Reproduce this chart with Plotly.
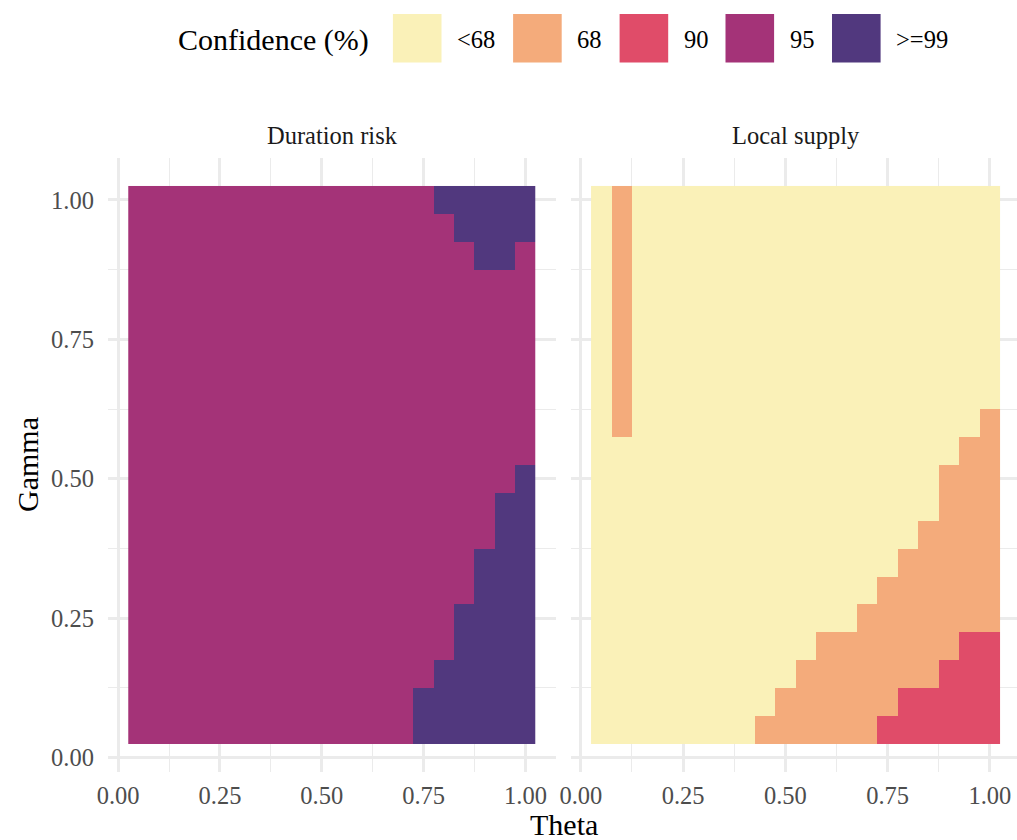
import plotly.graph_objects as go

# ---- data -------------------------------------------------------------
theta = [0.05, 0.10, 0.15, 0.20, 0.25, 0.30, 0.35, 0.40, 0.45, 0.50,
         0.55, 0.60, 0.65, 0.70, 0.75, 0.80, 0.85, 0.90, 0.95, 1.00]
gamma = [0.05, 0.10, 0.15, 0.20, 0.25, 0.30, 0.35, 0.40, 0.45, 0.50,
         0.55, 0.60, 0.65, 0.70, 0.75, 0.80, 0.85, 0.90, 0.95, 1.00]

levels = ["<68", "68", "90", "95", ">=99"]
level_codes = ["Y", "O", "R", "P", "D"]
level_colors = ["#FAF1B8", "#F4AB7B", "#E04C69", "#A43378", "#51387E"]

panel_names = ["Duration risk", "Local supply"]

# One string per gamma row, from gamma = 1.00 (top) down to 0.05 (bottom);
# one character per theta cell (0.05 ... 1.00), spaces only for readability.
# Y: <68   O: 68   R: 90   P: 95   D: >=99
duration_risk_rows = [
    "PPPPP PPPPP PPPPP DDDDD",  # 1.00
    "PPPPP PPPPP PPPPP PDDDD",  # 0.95
    "PPPPP PPPPP PPPPP PPDDP",  # 0.90
    "PPPPP PPPPP PPPPP PPPPP",  # 0.85
    "PPPPP PPPPP PPPPP PPPPP",  # 0.80
    "PPPPP PPPPP PPPPP PPPPP",  # 0.75
    "PPPPP PPPPP PPPPP PPPPP",  # 0.70
    "PPPPP PPPPP PPPPP PPPPP",  # 0.65
    "PPPPP PPPPP PPPPP PPPPP",  # 0.60
    "PPPPP PPPPP PPPPP PPPPP",  # 0.55
    "PPPPP PPPPP PPPPP PPPPD",  # 0.50
    "PPPPP PPPPP PPPPP PPPDD",  # 0.45
    "PPPPP PPPPP PPPPP PPPDD",  # 0.40
    "PPPPP PPPPP PPPPP PPDDD",  # 0.35
    "PPPPP PPPPP PPPPP PPDDD",  # 0.30
    "PPPPP PPPPP PPPPP PDDDD",  # 0.25
    "PPPPP PPPPP PPPPP PDDDD",  # 0.20
    "PPPPP PPPPP PPPPP DDDDD",  # 0.15
    "PPPPP PPPPP PPPPD DDDDD",  # 0.10
    "PPPPP PPPPP PPPPD DDDDD",  # 0.05
]

local_supply_rows = [
    "YOYYY YYYYY YYYYY YYYYY",  # 1.00
    "YOYYY YYYYY YYYYY YYYYY",  # 0.95
    "YOYYY YYYYY YYYYY YYYYY",  # 0.90
    "YOYYY YYYYY YYYYY YYYYY",  # 0.85
    "YOYYY YYYYY YYYYY YYYYY",  # 0.80
    "YOYYY YYYYY YYYYY YYYYY",  # 0.75
    "YOYYY YYYYY YYYYY YYYYY",  # 0.70
    "YOYYY YYYYY YYYYY YYYYY",  # 0.65
    "YOYYY YYYYY YYYYY YYYYO",  # 0.60
    "YYYYY YYYYY YYYYY YYYOO",  # 0.55
    "YYYYY YYYYY YYYYY YYOOO",  # 0.50
    "YYYYY YYYYY YYYYY YYOOO",  # 0.45
    "YYYYY YYYYY YYYYY YOOOO",  # 0.40
    "YYYYY YYYYY YYYYY OOOOO",  # 0.35
    "YYYYY YYYYY YYYYO OOOOO",  # 0.30
    "YYYYY YYYYY YYYOO OOOOO",  # 0.25
    "YYYYY YYYYY YOOOO OOORR",  # 0.20
    "YYYYY YYYYY OOOOO OORRR",  # 0.15
    "YYYYY YYYYO OOOOO RRRRR",  # 0.10
    "YYYYY YYYOO OOOOR RRRRR",  # 0.05
]

tick_vals = [0.0, 0.25, 0.5, 0.75, 1.0]
tick_text = ["0.00", "0.25", "0.50", "0.75", "1.00"]


# ---- helpers ----------------------------------------------------------
def rows_to_z(rows):
    """Turn the top-down row strings into a bottom-up matrix of level indices."""
    z = []
    for row in reversed(rows):
        cells = row.replace(" ", "")
        z.append([level_codes.index(c) for c in cells])
    return z


def stepped_colorscale(colors):
    n = len(colors)
    scale = []
    for i, c in enumerate(colors):
        scale.append([i / n, c])
        scale.append([(i + 1) / n, c])
    return scale


W, H = 1017, 840


def px_x(p):
    return p / W


def px_y(p):
    return 1 - p / H


SERIF = "Liberation Serif"
GRID = "#EBEBEB"

fig = go.Figure()

for k, rows in enumerate([duration_risk_rows, local_supply_rows]):
    suffix = "" if k == 0 else "2"
    z = rows_to_z(rows)
    fig.add_trace(go.Heatmap(
        x=theta, y=gamma, z=z,
        zmin=-0.5, zmax=len(levels) - 0.5,
        colorscale=stepped_colorscale(level_colors),
        showscale=False, xgap=0, ygap=0,
        customdata=[[levels[v] for v in r] for r in z],
        hovertemplate="Theta %{x:.2f}<br>Gamma %{y:.2f}<br>%{customdata}<extra>"
                      + panel_names[k] + "</extra>",
        xaxis="x" + suffix, yaxis="y" + suffix,
    ))

# panel geometry (pixels)
y_top, y_bot = 158.1, 771.6
left_x0, left_x1 = 107.9, 556.1
right_x0 = 570.6
unit_right = 409.0

axis_common = dict(
    automargin=False,
    showgrid=True, gridcolor=GRID, gridwidth=2.6,
    minor=dict(showgrid=True, gridcolor=GRID, gridwidth=1.4,
               tick0=0.125, dtick=0.25),
    zeroline=False, showline=False, ticks="",
    tickmode="array", tickvals=tick_vals, ticktext=tick_text,
    tickfont=dict(family=SERIF, size=24.5, color="#4D4D4D"),
    fixedrange=True,
)

fig.update_layout(
    template="none",
    width=W, height=H,
    margin=dict(l=0, r=0, t=0, b=0, pad=0, autoexpand=False),
    paper_bgcolor="white", plot_bgcolor="white",
    showlegend=False,
    xaxis=dict(domain=[px_x(left_x0), px_x(left_x1)], range=[-0.025, 1.075],
               anchor="y", ticklabelstandoff=7, **axis_common),
    xaxis2=dict(domain=[px_x(right_x0), 1.0],
                range=[-0.025, -0.025 + (W - right_x0) / unit_right],
                anchor="y2", ticklabelstandoff=7, **axis_common),
    yaxis=dict(domain=[px_y(y_bot), px_y(y_top)], range=[-0.025, 1.075],
               anchor="x", ticklabelstandoff=13, **axis_common),
    yaxis2=dict(domain=[px_y(y_bot), px_y(y_top)], range=[-0.025, 1.075],
                anchor="x2", matches="y", **{**axis_common, "showticklabels": False}),
)

annotations = []
shapes = []

# facet strip labels
for name, (a, b) in zip(panel_names, [(left_x0, left_x1), (right_x0, 1020.5)]):
    annotations.append(dict(
        text=name, x=px_x((a + b) / 2), y=px_y(135), xref="paper", yref="paper",
        xanchor="center", yanchor="middle", showarrow=False,
        font=dict(family=SERIF, size=24.5, color="#1A1A1A")))

# axis titles
annotations.append(dict(
    text="Theta", x=px_x(564), y=px_y(824.5), xref="paper", yref="paper",
    xanchor="center", yanchor="middle", showarrow=False,
    font=dict(family=SERIF, size=30, color="black")))
annotations.append(dict(
    text="Gamma", x=px_x(27), y=px_y(465), xref="paper", yref="paper",
    xanchor="center", yanchor="middle", showarrow=False, textangle=-90,
    font=dict(family=SERIF, size=30, color="black")))

# legend: title, colour keys and labels
annotations.append(dict(
    text="Confidence (%)", x=px_x(176), y=px_y(40), xref="paper", yref="paper",
    xanchor="left", yanchor="middle", showarrow=False,
    font=dict(family=SERIF, size=30, color="black")))

key_left = [392.9, 513.1, 619.6, 725.5, 832.0]
key_size = 48.6
key_top = 14.0
for x0, lab, col in zip(key_left, levels, level_colors):
    shapes.append(dict(
        type="rect", xref="paper", yref="paper",
        x0=px_x(x0), x1=px_x(x0 + key_size),
        y0=px_y(key_top + key_size), y1=px_y(key_top),
        fillcolor=col, line=dict(width=0), layer="above"))
    annotations.append(dict(
        text=lab, x=px_x(x0 + key_size + 13.5), y=px_y(39),
        xref="paper", yref="paper", xanchor="left", yanchor="middle",
        showarrow=False, font=dict(family=SERIF, size=24.5, color="black")))

fig.update_layout(annotations=annotations, shapes=shapes)

fig.write_html("out.html")
